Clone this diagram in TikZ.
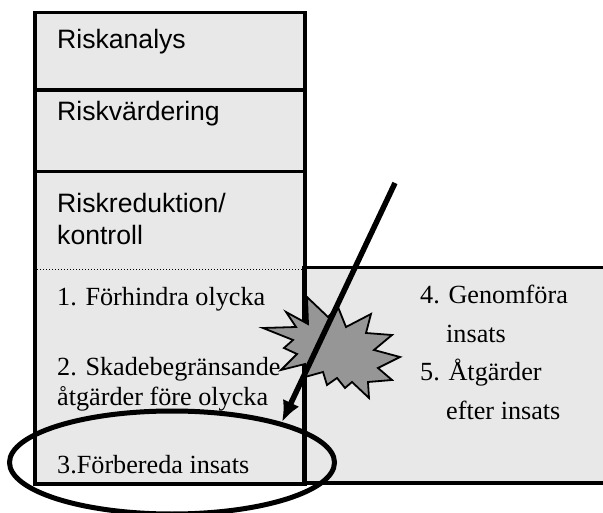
\documentclass[tikz,border=0pt]{standalone}
\usepackage{fontspec}
\usetikzlibrary{arrows.meta}
\setmainfont{Liberation Serif}
\newfontfamily\arialf{Liberation Sans}
\definecolor{panel}{HTML}{E8E8E8}
\definecolor{burst}{HTML}{969696}
\tikzset{
  x=1pt,y=-1pt,
  sanslabel/.style={inner sep=0pt,anchor=base west,font=\arialf\fontsize{26.6}{30}\selectfont},
  seriflabel/.style={inner sep=0pt,anchor=base west,font=\fontsize{26.2}{30}\selectfont},
  frame/.style={draw=black,line width=3.8pt},
}
\begin{document}
\begin{tikzpicture}
\useasboundingbox (0,0) rectangle (603,513);
\fill[panel] (35,12.5) rectangle (305,484);
\fill[panel] (305,267.5) rectangle (603,484);
\draw[black,line width=1pt,dotted] (37,269.5) -- (303,269.5);
\draw[frame] (35,12.5) rectangle (305,484);
\draw[frame] (35,90) -- (305,90);
\draw[frame] (35,171.5) -- (305,171.5);
\draw[frame] (603,267.5) -- (304,267.5) -- (304,483) -- (603,483);
\node[sanslabel] (a) at (57,49) {Riskanalys};
\node[sanslabel] (b) at (57,121) {Riskvärdering};
\node[sanslabel] (c) at (57,213) {Riskreduktion/};
\node[sanslabel] (d) at (57,245) {kontroll};
\node[seriflabel] (e) at (57,306) {1. Förhindra olycka};
\node[seriflabel] (f) at (57,375) {2. Skadebegränsande};
\node[seriflabel] (g) at (57,406) {åtgärder före olycka};
\node[seriflabel] (h) at (57,473) {3.Förbereda insats};
\node[seriflabel] (i) at (420,304) {4. Genomföra};
\node[seriflabel] (j) at (446,343) {insats};
\node[seriflabel] (k) at (420,381) {5. Åtgärder};
\node[seriflabel] (l) at (446,419) {efter insats};
\draw[black,line width=1.8pt,fill=burst,line join=miter] (307,297) -- (328,317) -- (338,307) -- (346,327) -- (371,314) -- (366,333) -- (392,335) -- (374,350) -- (400,357) -- (378,368) -- (392,380) -- (368,382) -- (369,398) -- (352,382) -- (345,388) -- (337,378) -- (327,385) -- (323,372) -- (305,377) -- (305,364) -- (281,370) -- (297,354) -- (284,348) -- (293,340) -- (263,328) -- (296,327) -- (286,312) -- (308,324) -- cycle;
\coordinate (s) at (395,183);
\coordinate (t) at (282,422);
\draw[black,line width=5.5pt,-{Latex[length=21pt,width=18pt]}] (s) -- (t);
\draw[black,line width=5pt] (172,462.5) ellipse [x radius=162.5,y radius=51.5];
\end{tikzpicture}
\end{document}
